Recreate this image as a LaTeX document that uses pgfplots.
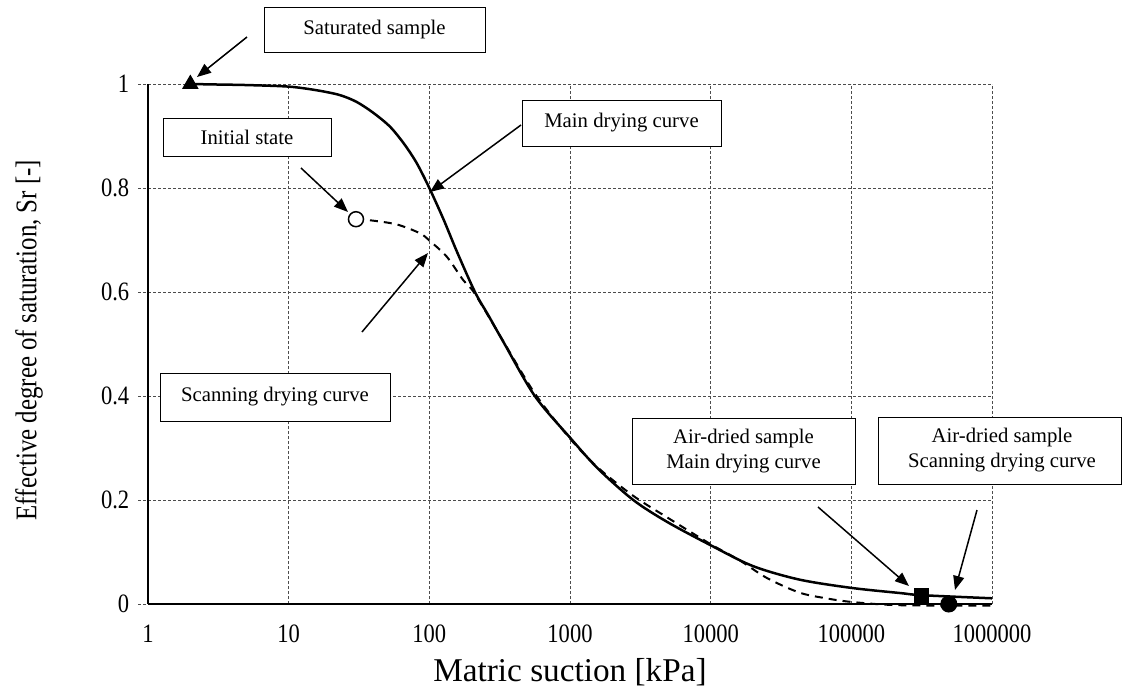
\documentclass[border=0pt]{standalone}
\usepackage{fontspec}
\setmainfont{Liberation Serif}
\newfontfamily\tickfont[FakeStretch=0.85]{Liberation Serif}
\newfontfamily\ylabfont[FakeStretch=0.83]{Liberation Serif}
\usepackage{pgfplots}
\usepackage{pgfplotstable}
\pgfplotsset{compat=1.18}
\usetikzlibrary{arrows.meta}

% Main drying curve (matric suction kPa, Sr)
\pgfplotstableread{
x y
2 1.000
3.16 0.999
5.01 0.998
10 0.995
15.8 0.988
22.9 0.979
30.2 0.966
39.8 0.945
52.5 0.918
66.1 0.885
81.3 0.848
100 0.800
126 0.740
158 0.676
211 0.600
263 0.555
333 0.506
562 0.400
1000 0.320
1585 0.260
2818 0.200
4898 0.158
10000 0.113
19953 0.073
42658 0.047
100000 0.031
223872 0.021
316228 0.017
1000000 0.011
}\maindrying

% Scanning drying curve
\pgfplotstableread{
x y
30.1 0.740
37.8 0.738
58.6 0.730
85.7 0.713
101 0.698
133 0.668
174 0.623
209 0.598
331 0.508
562 0.405
1000 0.318
1585 0.262
2818 0.208
5012 0.165
10000 0.115
15849 0.085
25119 0.050
42658 0.022
66069 0.011
100000 0.004
199526 -0.002
501187 -0.003
1000000 -0.003
}\scandrying

\begin{document}
\begin{tikzpicture}
\begin{scope}[x=0.4pt,y=-0.4pt,shift={(0,277.2pt)}]
  \path[use as bounding box] (0,0) rectangle (1122,693);
\end{scope}

\begin{axis}[
  at={(59.2pt,35.6pt)}, anchor=south west,
  width=337.6pt, height=208pt, scale only axis,
  xmode=log, xmin=1, xmax=1000000, ymin=0, ymax=1,
  clip=false,
  axis lines=left,
  axis line style={-, line width=0.8pt, black},
  xtick={1,10,100,1000,10000,100000,1000000},
  xticklabels={1,10,100,1000,10000,100000,1000000},
  minor xtick={},
  ytick={0,0.2,0.4,0.6,0.8,1},
  yticklabels={0,0.2,0.4,0.6,0.8,1},
  grid=major,
  major grid style={black!70, line width=0.4pt, dash pattern=on 1.2pt off 0.8pt},
  xtick style={draw=none},
  ytick style={black!70, line width=0.4pt, dash pattern=on 1.2pt off 0.8pt},
  tick align=outside,
  major tick length=4pt,
  /pgf/number format/assume math mode=true,
  ticklabel style={font={\fontsize{10.6}{12}\tickfont}},
  xticklabel style={yshift=-1pt},
]
\addplot[black, line width=1pt, smooth, tension=0.5] table[x=x,y=y]{\maindrying};
\addplot[black, line width=0.8pt, smooth, tension=0.5, dash pattern=on 3.2pt off 2.4pt] table[x=x,y=y]{\scandrying};
% markers
\addplot[only marks, mark=triangle*, mark size=3.4pt, black] coordinates {(2,1.0)};
\addplot[only marks, mark=*, mark size=3pt, mark options={fill=white, draw=black, line width=0.6pt}] coordinates {(30.1,0.74)};
\addplot[only marks, mark=square*, mark size=2.8pt, black] coordinates {(317000,0.016)};
\addplot[only marks, mark=*, mark size=3.2pt, black] coordinates {(493000,0.0)};
\end{axis}

\begin{scope}[x=0.4pt,y=-0.4pt,shift={(0,277.2pt)}]
  \tikzset{bx/.style={draw=black, line width=0.4pt, fill=white},
           tx/.style={font=\fontsize{8.3}{10}\selectfont, align=center},
           ar/.style={line width=0.6pt, -{Triangle[length=5.6pt,width=4.4pt]}}}
  % axis labels
  \node[font=\fontsize{13.3}{15}\selectfont] at (570,672) {Matric suction [kPa]};
  \node[font={\fontsize{12}{14}\ylabfont}, rotate=90] at (29,340) {Effective degree of saturation, Sr [-]};
  % boxes
  \draw[bx] (264,7) rectangle (485,52);
  \node[tx] at (374.5,29.5) {Saturated sample};
  \draw[bx] (163,118) rectangle (331,156);
  \node[tx] at (247,137) {Initial state};
  \draw[bx] (522,100) rectangle (721,146);
  \node[tx] at (621.5,123) {Main drying curve};
  \draw[bx] (160,373) rectangle (390,421);
  \node[tx] at (275,397) {Scanning drying curve};
  \draw[bx] (632,418) rectangle (855,484);
  \node[tx] at (743.5,451) {Air-dried sample\\Main drying curve};
  \draw[bx] (878,417) rectangle (1121.5,484);
  \node[tx] at (1002,450.5) {Air-dried sample\\Scanning drying curve};
  % arrows
  \draw[ar] (247,37) -- (197,77);
  \draw[ar] (301,168) -- (348,212);
  \draw[ar] (521,125) -- (430,192);
  \draw[ar] (362,332) -- (428,253);
  \draw[ar] (818,507) -- (909,586);
  \draw[ar] (977,510) -- (955,590);
\end{scope}
\end{tikzpicture}
\end{document}
